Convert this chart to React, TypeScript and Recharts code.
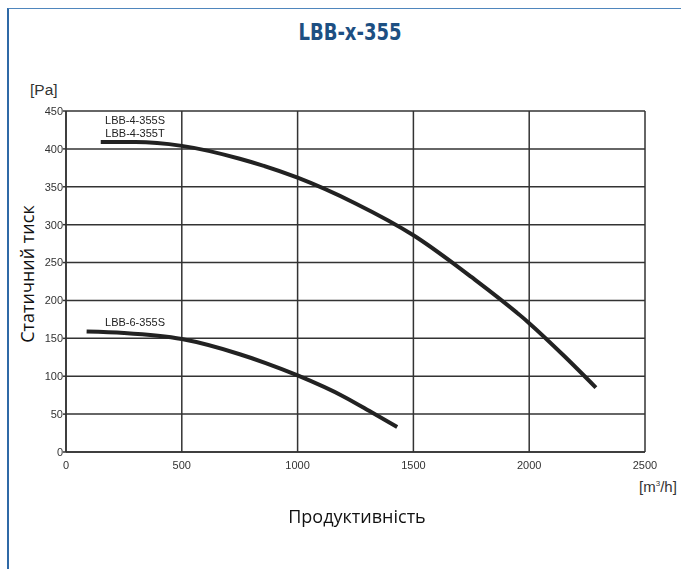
import React from 'react';
import {
    LineChart,
    Line,
    XAxis,
    YAxis,
    CartesianGrid,
    ReferenceDot,
} from 'recharts';

// Продуктивність [m3/h] та статичний тиск [Pa] для кожної кривої
const flow4 = [150, 300, 500, 750, 1000, 1250, 1500, 1750, 2000, 2150, 2288];
const press4 = [409, 409, 404, 387, 362, 328, 286, 231, 170, 127, 85];
const flow6 = [89, 250, 500, 750, 1000, 1200, 1327, 1430];
const press6 = [159, 157, 149, 129, 101, 73, 51, 33];

const xTicks = [0, 500, 1000, 1500, 2000, 2500];
const yTicks = [0, 50, 100, 150, 200, 250, 300, 350, 400, 450];

const curveLabels = [
    { q: 298, p: 438, text: 'LBB-4-355S' },
    { q: 298, p: 421, text: 'LBB-4-355T' },
    { q: 298, p: 172, text: 'LBB-6-355S' },
];

const data4 = flow4.map((q, i) => ({ q, p: press4[i] }));
const data6 = flow6.map((q, i) => ({ q, p: press6[i] }));

const tickFont = { fontFamily: '"Liberation Sans", Arial, sans-serif', fontSize: 11, fill: '#333' };
const axisFont = '"Open Sans", "Noto Sans", sans-serif';

export default function App() {
    return (
        <div
            style={{
                position: 'fixed',
                left: 7,
                top: 8,
                width: 672,
                height: 560,
                borderLeft: '2px solid #2f69a6',
                borderTop: '1px solid #4f86bd',
                background: '#fff',
            }}
        >
            <div
                style={{
                    position: 'absolute',
                    left: 5,
                    width: 672,
                    top: 10,
                    textAlign: 'center',
                    fontFamily: '"DejaVu Sans Condensed", "Liberation Sans Narrow", sans-serif',
                    fontWeight: 'bold',
                    fontSize: 23,
                    color: '#1d4f82',
                    transform: 'scaleX(0.87)',
                }}
            >
                LBB-x-355
            </div>
            <div
                style={{
                    position: 'absolute',
                    left: 21,
                    top: 72,
                    fontFamily: '"Liberation Sans", Arial, sans-serif',
                    fontSize: 15.5,
                    color: '#333',
                }}
            >
                [Pa]
            </div>
            <div
                style={{
                    position: 'absolute',
                    left: 630,
                    top: 469,
                    whiteSpace: 'nowrap',
                    fontFamily: '"Liberation Sans", Arial, sans-serif',
                    fontSize: 15,
                    color: '#333',
                }}
            >
                [m<sup style={{ fontSize: 8 }}>3</sup>/h]
            </div>
            <div
                style={{
                    position: 'absolute',
                    left: 0,
                    width: 696,
                    top: 495,
                    textAlign: 'center',
                    fontFamily: axisFont,
                    fontSize: 18,
                    color: '#111',
                }}
            >
                Продуктивність
            </div>
            <div
                style={{
                    position: 'absolute',
                    left: 18 - 100,
                    top: 266 - 13,
                    width: 200,
                    textAlign: 'center',
                    transform: 'rotate(-90deg)',
                    fontFamily: axisFont,
                    fontSize: 18,
                    color: '#111',
                }}
            >
                Статичний тиск
            </div>
            <div style={{ position: 'absolute', left: 0, top: 0 }}>
                <LineChart
                    width={672}
                    height={560}
                    margin={{ top: 102, right: 36, bottom: 87, left: 17 }}
                >
                    <CartesianGrid stroke="#333" strokeWidth={1.5} />
                    <XAxis
                        dataKey="q"
                        type="number"
                        domain={[0, 2500]}
                        ticks={xTicks}
                        allowDuplicatedCategory={false}
                        height={30}
                        tickSize={0}
                        tickMargin={9}
                        tick={tickFont}
                        axisLine={{ stroke: '#333', strokeWidth: 1.5 }}
                    />
                    <YAxis
                        dataKey="p"
                        type="number"
                        domain={[0, 450]}
                        ticks={yTicks}
                        width={40}
                        tickSize={3}
                        tickMargin={0}
                        tick={tickFont}
                        tickLine={{ stroke: '#333', strokeWidth: 1.5 }}
                        axisLine={{ stroke: '#333', strokeWidth: 1.5 }}
                    />
                    <Line
                        data={data4}
                        dataKey="p"
                        type="monotone"
                        stroke="#222"
                        strokeWidth={4}
                        dot={false}
                        isAnimationActive={false}
                    />
                    <Line
                        data={data6}
                        dataKey="p"
                        type="monotone"
                        stroke="#222"
                        strokeWidth={4}
                        dot={false}
                        isAnimationActive={false}
                    />
                    {curveLabels.map((l) => (
                        <ReferenceDot
                            key={l.text}
                            x={l.q}
                            y={l.p}
                            r={0}
                            stroke="none"
                            fill="none"
                            label={{ value: l.text, position: 'center', ...tickFont, fill: '#222' }}
                        />
                    ))}
                </LineChart>
            </div>
        </div>
    );
}
